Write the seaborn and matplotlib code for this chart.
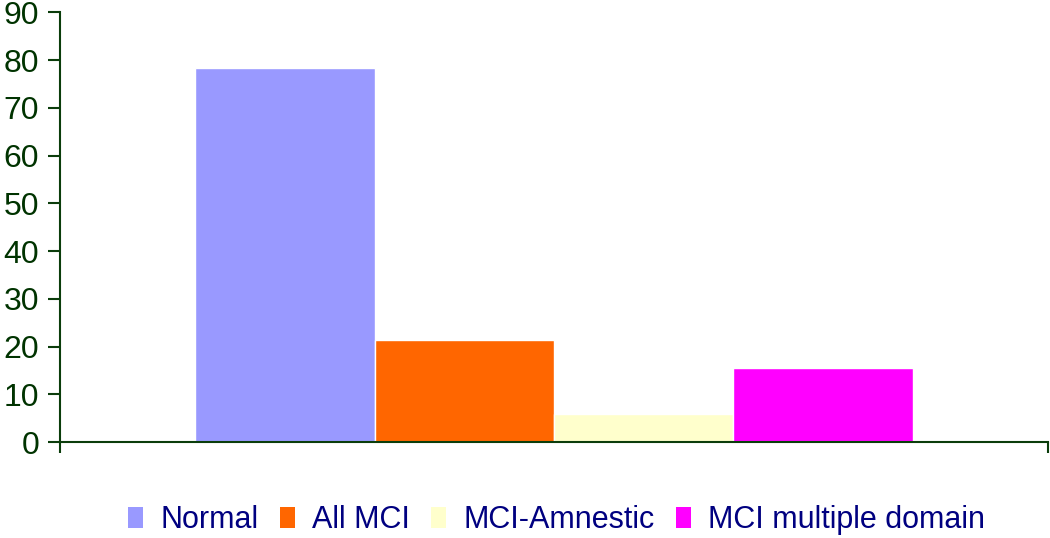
import matplotlib
matplotlib.use("Agg")
import matplotlib.pyplot as plt
import seaborn as sns
import pandas as pd

groups = ["Normal", "All MCI", "MCI-Amnestic", "MCI multiple domain"]
values = [78.3, 21.3, 5.9, 15.5]
colors = ["#9999FF", "#FF6600", "#FFFFCC", "#FF00FF"]
yticks = [0, 10, 20, 30, 40, 50, 60, 70, 80, 90]

sns.set_theme(style="white")
plt.rcParams["font.family"] = ["Liberation Sans", "DejaVu Sans"]

df = pd.DataFrame({"cat": [""] * len(groups), "group": groups, "value": values})

fig = plt.figure(figsize=(10.5, 5.38), dpi=100)
ax = fig.add_axes([60 / 1050, 96 / 538, 988 / 1050, 429.7 / 538])

sns.barplot(data=df, x="cat", y="value", hue="group", hue_order=groups,
            palette=colors, width=0.726, gap=0, saturation=1,
            edgecolor="white", linewidth=1, ax=ax, legend=True)

axis_col = "#0b3d0b"
ax.set_ylim(0, 90)
ax.set_yticks(yticks)
ax.set_yticklabels([str(t) for t in yticks], fontsize=23, color="#003300")
ax.set_xlim(-0.5, 0.5)
ax.set_xticks([-0.5, 0.5])
ax.set_xticklabels(["", ""])
ax.set_xlabel("")
ax.set_ylabel("")
for s in ["top", "right"]:
    ax.spines[s].set_visible(False)
for s in ["left", "bottom"]:
    ax.spines[s].set_color(axis_col)
    ax.spines[s].set_linewidth(1.5)
ax.tick_params(axis="y", direction="out", length=9, width=1.5, color=axis_col, left=True, pad=6)
ax.tick_params(axis="x", direction="out", length=8, width=1.5, color=axis_col, bottom=True)
ax.spines["bottom"].set_bounds(-0.5, 0.5)

leg = ax.legend(loc="center", bbox_to_anchor=(0.53, 0.033), bbox_transform=fig.transFigure,
                ncol=4, frameon=False, fontsize=22, handlelength=0.5, handleheight=0.7,
                handletextpad=0.55, columnspacing=0.7, borderpad=0)
for t in leg.get_texts():
    t.set_color("#000080")
for h in leg.legend_handles:
    h.set_edgecolor("none")

fig.savefig("out.png", dpi=100)
